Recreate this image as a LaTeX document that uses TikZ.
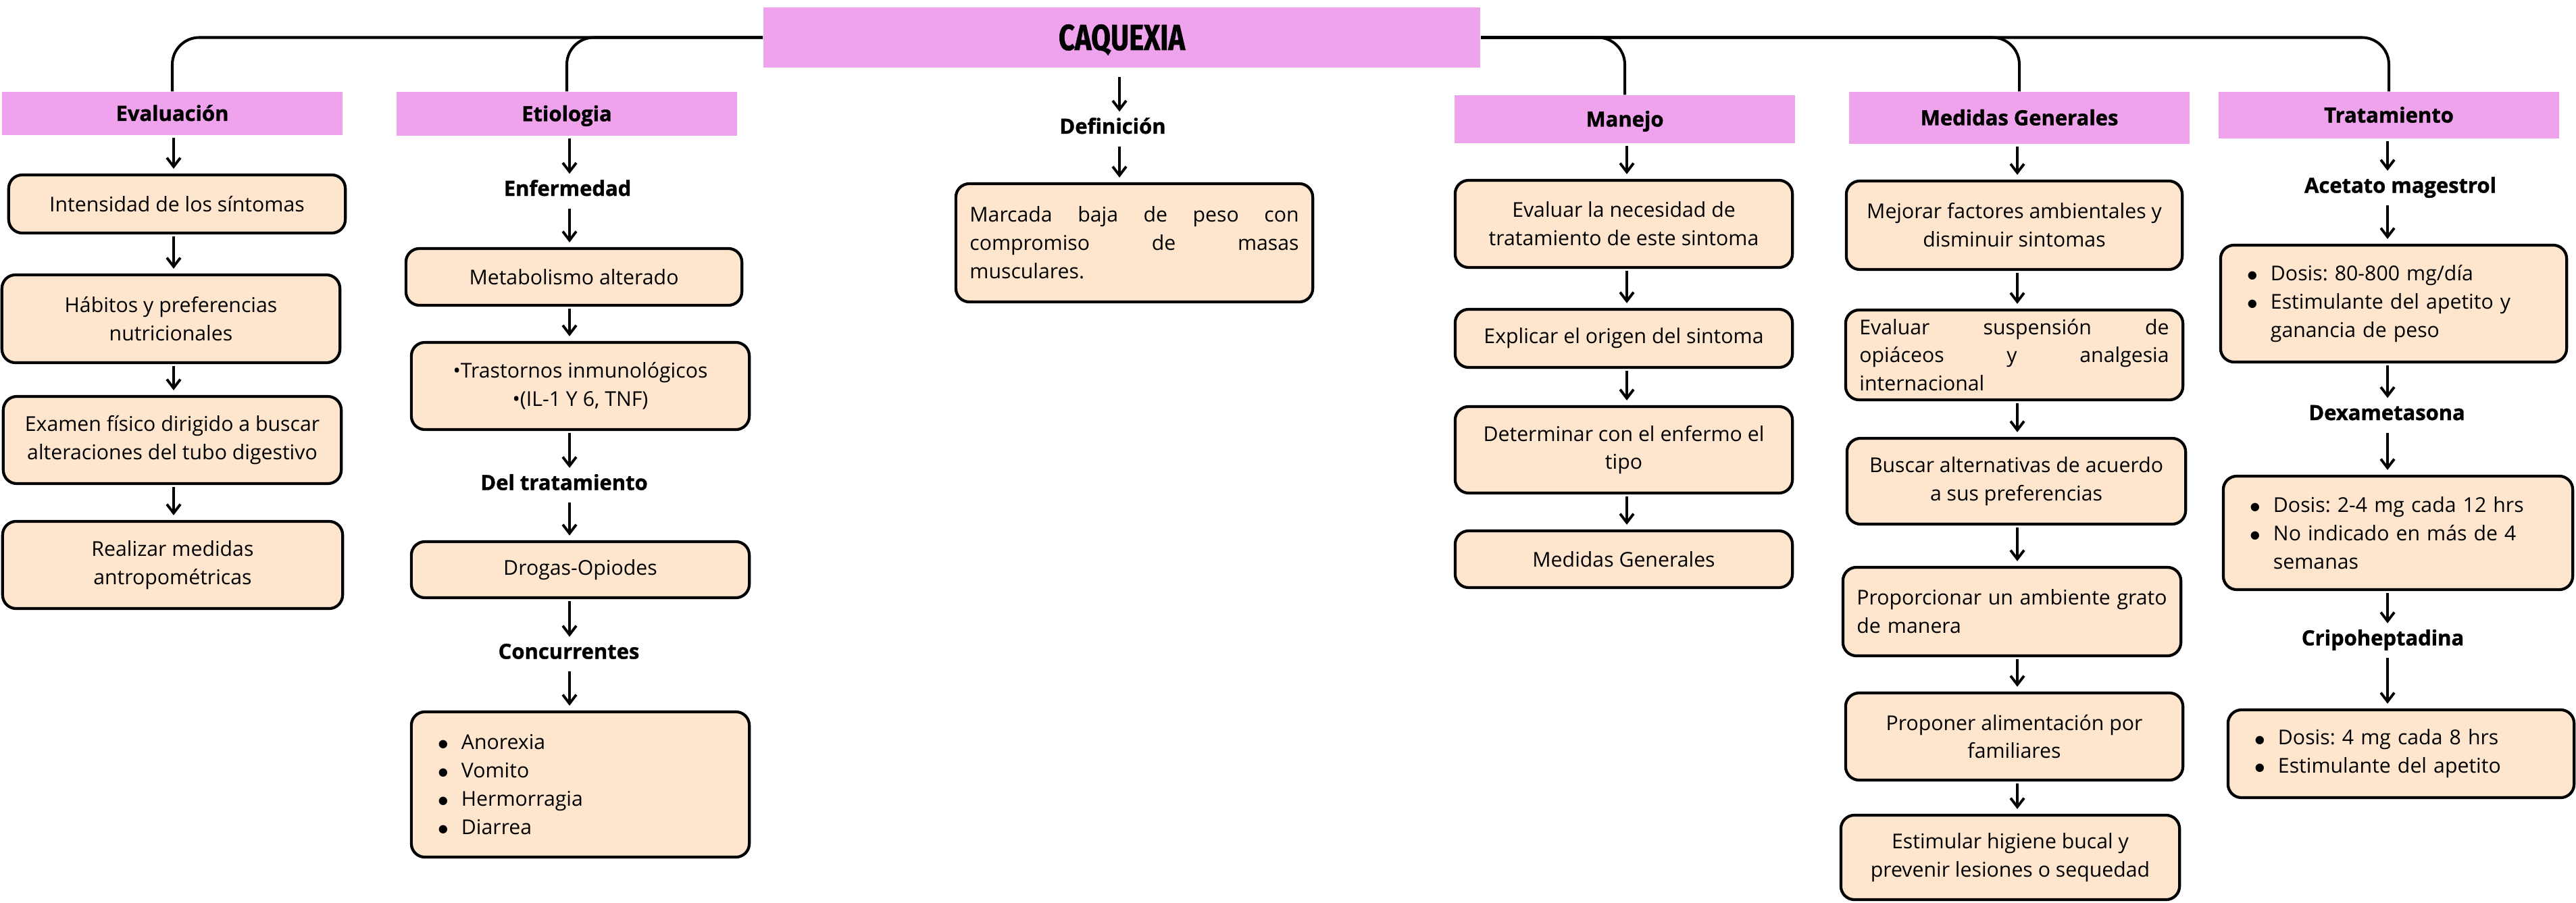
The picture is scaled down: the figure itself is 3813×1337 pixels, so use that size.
\documentclass[tikz,border=0pt]{standalone}
\usepackage{fontspec}
\setmainfont{Open Sans}
\newfontfamily\hfont[BoldFeatures={FakeBold=1.2}]{Open Sans}
\newfontfamily\tfont[FakeStretch=0.78,BoldFeatures={FakeBold=1}]{Fira Sans}
\newfontfamily\dvfont{DejaVu Sans}
\usetikzlibrary{arrows.meta}
\definecolor{hpink}{RGB}{238,163,236}
\definecolor{peach}{RGB}{254,229,206}
\newcommand\itm{\makebox[0.34cm][l]{\raisebox{0.8pt}{\dvfont\fontsize{4.6pt}{5pt}\selectfont ●}}}
\newcommand\ind{\hspace*{0.34cm}}
\frenchspacing
\begin{document}
\begin{tikzpicture}[x=0.01cm,y=-0.01cm,
  hdr/.style={fill=hpink, inner sep=0pt, text height=0.22cm, text depth=0cm, font=\hfont\bfseries\fontsize{8.8pt}{11pt}\selectfont},
  sub/.style={inner sep=0pt, text height=0.22cm, text depth=0cm, font=\hfont\bfseries\fontsize{8.8pt}{11pt}\selectfont},
  bx/.style={draw, line width=1.2pt, fill=peach, rounded corners=0.2cm, align=center, inner sep=0.1cm, font=\frenchspacing\fontsize{8.6pt}{11.9pt}\selectfont},
  jbox/.style={bx, align=left, inner xsep=0.205cm},
  lst/.style={bx, align=left, inner xsep=0.4cm},
  arr/.style={-{Straight Barb[length=0.13cm,width=0.2cm]}, line width=1.1pt, shorten >=0.07cm, shorten <=0.03cm},
  fromtxt/.style={shorten <=0.18cm},
  totxt/.style={shorten >=0.1cm},
  link/.style={line width=1.15pt, rounded corners=0.4cm}]
\fill[white] (0,0) rectangle (3813,1337);
\useasboundingbox (0,0) rectangle (3813,1337);

\coordinate (c1) at (257,0);
\coordinate (c2) at (843,0);
\coordinate (c3) at (1657,0);
\coordinate (c4) at (2408,0);
\coordinate (c5) at (2986,0);
\coordinate (c6) at (3534,0);

% title
\node[hdr, minimum width=10.61cm, minimum height=0.89cm, text height=0.37cm, font=\tfont\bfseries\fontsize{15.2pt}{18pt}\selectfont] (cq) at (1660.5,55.5) {CAQUEXIA};

% column 1
\node[hdr, minimum width=5.04cm, minimum height=0.64cm] (hEval) at (255,168) {Evaluación};
\node[bx, minimum width=4.98cm, minimum height=0.86cm] (b1) at (262,302) {Intensidad de los síntomas};
\node[bx, minimum width=5.00cm, minimum height=1.30cm] (b2) at (253,472) {Hábitos y preferencias\\nutricionales};
\node[bx, minimum width=5.00cm, minimum height=1.29cm] (b3) at (255,651.5) {Examen físico dirigido a buscar\\alteraciones del tubo digestivo};
\node[bx, minimum width=5.03cm, minimum height=1.29cm] (b4) at (255.5,836.5) {Realizar medidas\\antropométricas};

% column 2
\node[hdr, minimum width=5.04cm, minimum height=0.65cm] (hEtio) at (839,168.5) {Etiologia};
\node[sub] (tEnf) at (840,279) {Enfermedad};
\node[bx, minimum width=4.97cm, minimum height=0.84cm] (bMet) at (849.5,410) {Metabolismo alterado};
\node[bx, minimum width=5.00cm, minimum height=1.29cm] (bTras) at (859,571.5) {•Trastornos inmunológicos\\•(IL-1 Y 6, TNF)};
\node[sub] (tDel) at (835,714.5) {Del tratamiento};
\node[bx, minimum width=5.00cm, minimum height=0.83cm] (bDrog) at (859,843.5) {Drogas-Opiodes};
\node[sub] (tConc) at (842,964.5) {Concurrentes};
\node[lst, text width=4.2cm, minimum height=2.15cm] (bList) at (859,1161.5) {\itm Anorexia\\\itm Vomito\\\itm Hermorragia\\\itm Diarrea};

% column 3
\node[sub] (tDef) at (1647,187) {Definición};
\node[jbox, text width=4.87cm, minimum height=1.75cm] (bDef) at (1679,359.5) {Marcada\hfill baja\hfill de\hfill peso\hfill con\\compromiso\hfill de\hfill masas\\musculares.};

% column 4
\node[hdr, minimum width=5.04cm, minimum height=0.71cm] (hMan) at (2405,176.5) {Manejo};
\node[bx, minimum width=4.99cm, minimum height=1.29cm] (bM1) at (2403.5,331.5) {Evaluar la necesidad de\\tratamiento de este sintoma};
\node[bx, minimum width=4.99cm, minimum height=0.86cm] (bM2) at (2403.5,501) {Explicar el origen del sintoma};
\node[bx, minimum width=4.99cm, minimum height=1.28cm] (bM3) at (2403.5,666) {Determinar con el enfermo el\\tipo};
\node[bx, minimum width=4.99cm, minimum height=0.84cm] (bM4) at (2403.5,828) {Medidas Generales};

% column 5
\node[hdr, minimum width=5.04cm, minimum height=0.77cm] (hMG) at (2989,174.5) {Medidas Generales};
\node[bx, minimum width=4.97cm, minimum height=1.31cm] (bG1) at (2981.5,333.5) {Mejorar factores ambientales y\\disminuir sintomas};
\node[jbox, text width=4.58cm, minimum height=1.33cm] (bG2) at (2981.5,525.5) {Evaluar\hfill suspensión\hfill de\\opiáceos\hfill y\hfill analgesia\\internacional};
\node[bx, minimum width=5.01cm, minimum height=1.27cm] (bG3) at (2984.5,712.5) {Buscar alternativas de acuerdo\\a sus preferencias};
\node[jbox, text width=4.59cm, minimum height=1.31cm] (bG4) at (2978,905.5) {Proporcionar\hfill un\hfill ambiente\hfill grato\\de manera};
\node[bx, minimum width=4.99cm, minimum height=1.29cm] (bG5) at (2981.5,1090.5) {Proponer alimentación por\\familiares};
\node[bx, minimum width=5.01cm, minimum height=1.25cm] (bG6) at (2975.5,1269.5) {Estimular higiene bucal y\\prevenir lesiones o sequedad};

% column 6
\node[hdr, minimum width=5.04cm, minimum height=0.69cm] (hTr) at (3536,170.5) {Tratamiento};
\node[sub] (tAce) at (3553,274.5) {Acetato magestrol};
\node[lst, text width=4.32cm, minimum height=1.73cm] (bT1) at (3543,449.5) {\itm Dosis: 80-800 mg/día\\\itm Estimulante del apetito y\\\ind ganancia de peso};
\node[sub] (tDex) at (3533,611) {Dexametasona};
\node[lst, text width=4.37cm, minimum height=1.68cm] (bT2) at (3549.5,789) {\itm Dosis: 2-4 mg cada 12 hrs\\\itm No indicado en más de 4\\\ind semanas};
\node[sub] (tCri) at (3527,944.5) {Cripoheptadina};
\node[lst, text width=4.32cm, minimum height=1.30cm] (bT3) at (3554,1116) {\itm Dosis: 4 mg cada 8 hrs\\\itm Estimulante del apetito};

% top connectors
\draw[link] (cq.west) -| (hEval.north);
\draw[link] (cq.west) -| (hEtio.north);
\draw[link] (cq.east) -| (hMan.north);
\draw[link] (cq.east) -| (hMG.north);
\draw[link] (cq.east) -| (hTr.north);

% column 1 arrows
\draw[arr] (hEval.south -| c1) -- (b1.north -| c1);
\draw[arr] (b1.south -| c1) -- (b2.north -| c1);
\draw[arr] (b2.south -| c1) -- (b3.north -| c1);
\draw[arr] (b3.south -| c1) -- (b4.north -| c1);

% column 2 arrows
\draw[arr, totxt] (hEtio.south -| c2) -- (tEnf.north -| c2);
\draw[arr, fromtxt] (tEnf.south -| c2) -- (bMet.north -| c2);
\draw[arr] (bMet.south -| c2) -- (bTras.north -| c2);
\draw[arr, totxt] (bTras.south -| c2) -- (tDel.north -| c2);
\draw[arr, fromtxt] (tDel.south -| c2) -- (bDrog.north -| c2);
\draw[arr, totxt] (bDrog.south -| c2) -- (tConc.north -| c2);
\draw[arr, fromtxt] (tConc.south -| c2) -- (bList.north -| c2);

% column 3 arrows
\draw[arr, totxt, shorten <=0.13cm] (cq.south -| c3) -- (tDef.north -| c3);
\draw[arr, fromtxt] (tDef.south -| c3) -- (bDef.north -| c3);

% column 4 arrows
\draw[arr] (hMan.south -| c4) -- (bM1.north -| c4);
\draw[arr] (bM1.south -| c4) -- (bM2.north -| c4);
\draw[arr] (bM2.south -| c4) -- (bM3.north -| c4);
\draw[arr] (bM3.south -| c4) -- (bM4.north -| c4);

% column 5 arrows
\draw[arr] (hMG.south -| c5) -- (bG1.north -| c5);
\draw[arr] (bG1.south -| c5) -- (bG2.north -| c5);
\draw[arr] (bG2.south -| c5) -- (bG3.north -| c5);
\draw[arr] (bG3.south -| c5) -- (bG4.north -| c5);
\draw[arr] (bG4.south -| c5) -- (bG5.north -| c5);
\draw[arr] (bG5.south -| c5) -- (bG6.north -| c5);

% column 6 arrows
\draw[arr, totxt] (hTr.south -| c6) -- (tAce.north -| c6);
\draw[arr, fromtxt] (tAce.south -| c6) -- (bT1.north -| c6);
\draw[arr, totxt] (bT1.south -| c6) -- (tDex.north -| c6);
\draw[arr, fromtxt] (tDex.south -| c6) -- (bT2.north -| c6);
\draw[arr, totxt] (bT2.south -| c6) -- (tCri.north -| c6);
\draw[arr, fromtxt] (tCri.south -| c6) -- (bT3.north -| c6);
\end{tikzpicture}
\end{document}
